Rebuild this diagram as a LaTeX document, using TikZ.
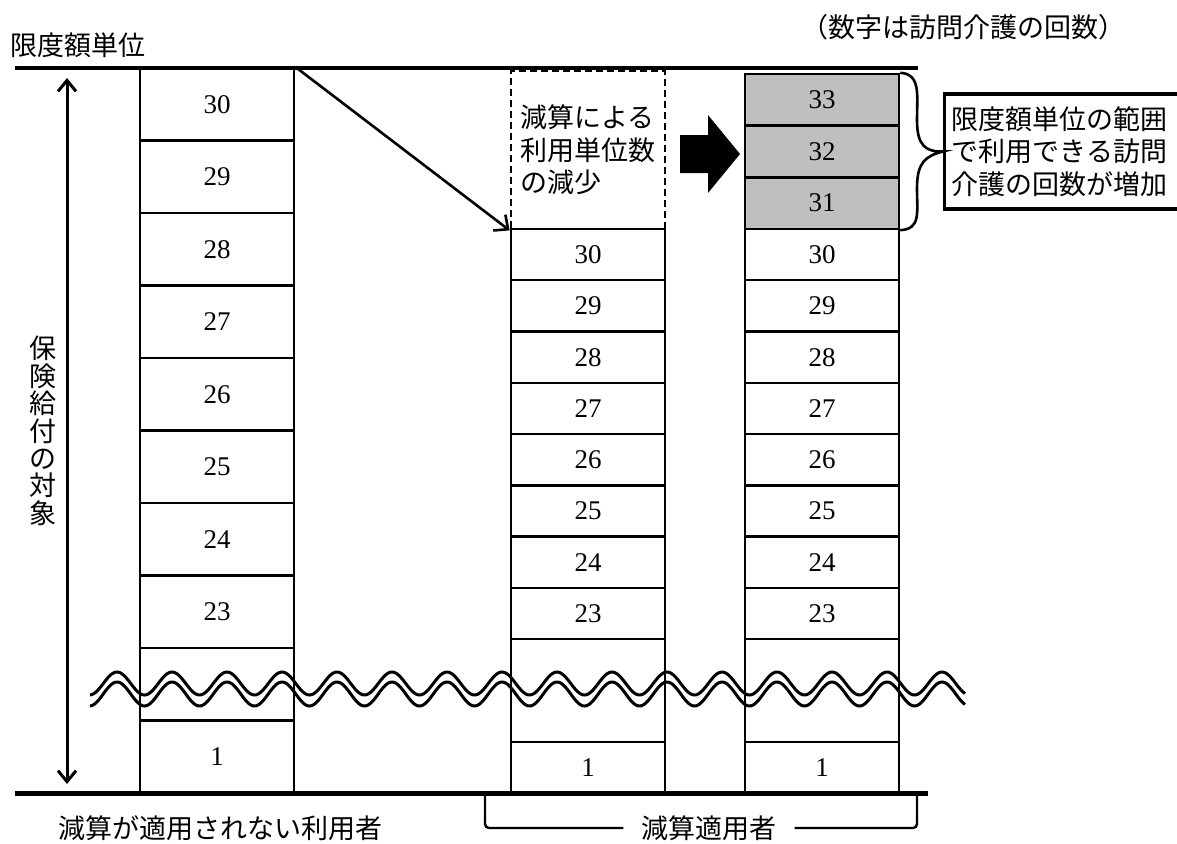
\documentclass[tikz,border=0pt]{standalone}
\usepackage{fontspec}
\newfontfamily\jp{Noto Sans CJK JP}
\newfontfamily\numf{Liberation Serif}
\usetikzlibrary{arrows.meta}
\begin{document}
\begin{tikzpicture}[x=1pt,y=-1pt,
  cell/.style={draw, line width=2.4pt, minimum width=154pt, inner sep=0pt, font=\numf\fontsize{27}{30}\selectfont},
  gcell/.style={cell, fill=black!25},
  jtext/.style={font=\jp\fontsize{27}{32.5}\selectfont, inner sep=0pt},
  thickline/.style={line width=4.5pt},
  wave/.style={line width=3pt},
  barbtip/.style={line width=2.6pt, -{Straight Barb[length=11pt,width=20pt]}},
  dbl/.style={line width=3pt, {Straight Barb[length=11pt,width=18pt]}-{Straight Barb[length=11pt,width=18pt]}}
]
\useasboundingbox (0,0) rectangle (1177,843);

% left column
\foreach \i/\t/\n in {0/30/L30,1/29/L29,2/28/L28,3/27/L27,4/26/L26,5/25/L25,6/24/L24,7/23/L23,8//Lb,9/1/L1}
  \node[cell, minimum height=72.5pt] (\n) at (217, {68+72.5*\i+36.25}) {\t};

% middle column
\foreach \i/\t/\n in {0/30/M30,1/29/M29,2/28/M28,3/27/M27,4/26/M26,5/25/M25,6/24/M24,7/23/M23}
  \node[cell, minimum height=51.27pt] (\n) at (588, {229+51.27*\i+25.64}) {\t};
\node[cell, minimum height=102.55pt] (Mb) at (588, 690.45) {};
\node[cell, minimum height=51.27pt] (M1) at (588, 767.4) {1};

% right column
\foreach \i/\t/\n in {0/33/R33,1/32/R32,2/31/R31}
  \node[gcell, minimum height=51.67pt] (\n) at (822, {74+51.67*\i+25.83}) {\t};
\foreach \i/\t/\n in {0/30/R30,1/29/R29,2/28/R28,3/27/R27,4/26/R26,5/25/R25,6/24/R24,7/23/R23}
  \node[cell, minimum height=51.27pt] (\n) at (822, {229+51.27*\i+25.64}) {\t};
\node[cell, minimum height=102.55pt] (Rb) at (822, 690.45) {};
\node[cell, minimum height=51.27pt] (R1) at (822, 767.4) {1};

% dashed box
\node[draw, line width=2.8pt, dash pattern=on 7pt off 4pt, minimum width=154pt, minimum height=158pt,
      jtext, align=left] (cut) at (588,150) {減算による\\利用単位数\\の減少};

% top and bottom lines
\coordinate (tl) at (15,68);
\coordinate (tr) at (918,68);
\coordinate (bl) at (15,793);
\coordinate (br) at (928,793);
\draw[thickline] (tl) -- (tr);
\draw[line width=5pt] (bl) -- (br);

% double arrow
\coordinate (at) at (67,78);
\coordinate (ab) at (67,784);
\draw[dbl] (at) -- (ab);

% diagonal arrow
\draw[barbtip] (L30.north east) -- (cut.south west);

% block arrow
\fill (680,135) -- (708,135) -- (708,115) -- (740,154) -- (708,193) -- (708,173) -- (680,173) -- cycle;

% note box
\node[draw, line width=3.2pt, jtext, align=left, text width=226pt, inner xsep=7pt,
      minimum height=115pt, anchor=west] (note) at (943,151.5) {限度額単位の範囲\\で利用できる訪問\\介護の回数が増加};

% brace
\draw[line width=2.6pt] (R33.north east) .. controls (921,74) and (917,95) .. (917,120)
   .. controls (917,145) and (925,152) .. (note.west)
   .. controls (925,156) and (917,163) .. (917,188)
   .. controls (917,213) and (921,229) .. (R31.south east);

% waves
\draw[wave] plot[domain=90:965, samples=500, smooth] (\x, {683.5-11.5*cos((\x-117)*6.54545)});
\draw[wave] plot[domain=90:965, samples=500, smooth] (\x, {694-12*cos((\x-117)*6.54545)});

% labels
\node[jtext, anchor=west] (lim) at (10,45) {限度額単位};
\node[jtext] (legend) at (963,27) {（数字は訪問介護の回数）};
\node[jtext, align=center, font=\jp\fontsize{27}{27.4}\selectfont] (cov) at (43,431) {保\\険\\給\\付\\の\\対\\象};
\node[jtext, anchor=west] (nonapp) at (58,828) {減算が適用されない利用者};
\node[jtext, inner xsep=18pt] (app) at (709,828) {減算適用者};
\coordinate (brl) at (485,795);
\coordinate (brr) at (917,795);
\draw[line width=2.4pt, rounded corners=4pt] (app.west) -| (brl);
\draw[line width=2.4pt, rounded corners=4pt] (app.east) -| (brr);
\end{tikzpicture}
\end{document}
